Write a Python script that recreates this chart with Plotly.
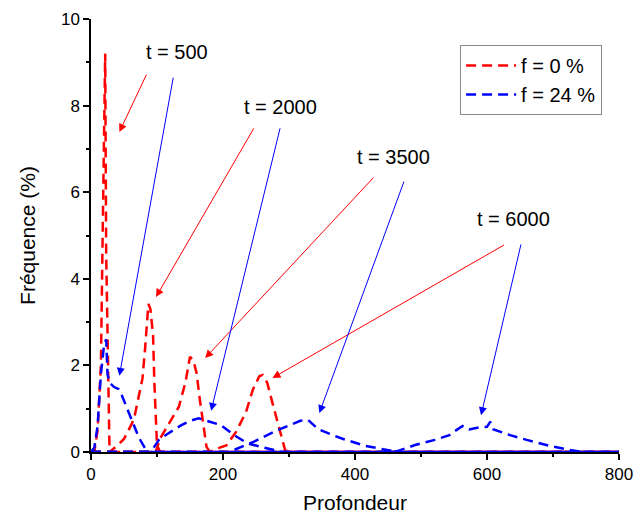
import plotly.graph_objects as go

# ---- data ----
x_f0_t500 = [0, 5, 10, 15, 18, 20, 21.5, 23, 24.5, 26, 28, 30, 800]
y_f0_t500 = [0, 0, 0.5, 2.0, 5.4, 7.7, 9.2, 4.6, 3.0, 1.5, 0.1, 0, 0]

x_f0_t2000 = [0, 28, 40, 50, 65, 78, 82, 87, 90, 94, 96, 100, 105, 800]
y_f0_t2000 = [0, 0, 0.15, 0.3, 0.75, 1.7, 2.4, 3.42, 3.3, 2.7, 1.6, 0.15, 0, 0]

x_f0_t3500 = [0, 98, 105, 118, 133, 143, 150, 155, 160, 165, 170, 175, 180, 800]
y_f0_t3500 = [0, 0, 0.32, 0.67, 1.04, 1.6, 2.2, 2.12, 1.82, 1.2, 0.67, 0.12, 0, 0]

x_f0_t6000 = [0, 180, 195, 205, 220, 235, 245, 255, 260, 267, 275, 285, 294, 300, 800]
y_f0_t6000 = [0, 0, 0.1, 0.15, 0.47, 0.93, 1.43, 1.75, 1.78, 1.6, 1.13, 0.58, 0.05, 0, 0]

x_f24_t500 = [0, 5, 10, 15, 20, 23, 25, 28, 35, 42, 47, 55, 62, 72, 82, 90, 800]
y_f24_t500 = [0, 0.1, 0.6, 1.8, 2.5, 2.6, 1.8, 1.6, 1.5, 1.45, 1.3, 1.0, 0.7, 0.35, 0.08, 0, 0]

x_f24_t2000 = [0, 85, 95, 103, 118, 137, 150, 163, 180, 197, 217, 237, 257, 277, 290, 800]
y_f24_t2000 = [0, 0, 0.1, 0.28, 0.44, 0.62, 0.72, 0.78, 0.7, 0.62, 0.39, 0.2, 0.12, 0.05, 0, 0]

x_f24_t3500 = [0, 210, 217, 247, 282, 300, 317, 329, 344, 366, 382, 416, 446, 465, 800]
y_f24_t3500 = [0, 0, 0.05, 0.24, 0.5, 0.62, 0.72, 0.74, 0.53, 0.39, 0.3, 0.14, 0.05, 0, 0]

x_f24_t6000 = [0, 450, 464, 491, 521, 543, 553, 563, 573, 588, 600, 605, 610, 635, 660, 695, 725, 745, 800]
y_f24_t6000 = [0, 0, 0.02, 0.16, 0.28, 0.39, 0.5, 0.6, 0.52, 0.57, 0.58, 0.7, 0.52, 0.39, 0.28, 0.14, 0.05, 0, 0]

series_names = ["f = 0 %", "f = 24 %"]
time_labels = ["t = 500", "t = 2000", "t = 3500", "t = 6000"]

RED = "#ff0000"
BLUE = "#0000ff"
FONT = "Liberation Sans, Arial, sans-serif"

fig = go.Figure()

red_sets = [(x_f0_t500, y_f0_t500), (x_f0_t2000, y_f0_t2000),
            (x_f0_t3500, y_f0_t3500), (x_f0_t6000, y_f0_t6000)]
blue_sets = [(x_f24_t500, y_f24_t500), (x_f24_t2000, y_f24_t2000),
             (x_f24_t3500, y_f24_t3500), (x_f24_t6000, y_f24_t6000)]

DASH = "10px,6px"
for i, (xs, ys) in enumerate(red_sets):
    fig.add_trace(go.Scatter(x=xs, y=ys, mode="lines", name=series_names[0],
                             legendgroup="f0", showlegend=(i == 0),
                             line=dict(color=RED, width=2.5, dash=DASH)))
for i, (xs, ys) in enumerate(blue_sets):
    fig.add_trace(go.Scatter(x=xs, y=ys, mode="lines", name=series_names[1],
                             legendgroup="f24", showlegend=(i == 0),
                             line=dict(color=BLUE, width=2.5, dash=DASH)))

# annotation positions (labels and arrows)
label_pos = [(130, 9.24), (287, 7.97), (458, 6.81), (640, 5.38)]
red_arrows = [((43, 7.39), (85, 8.75)), ((98.5, 3.58), (248, 7.51)),
              ((173, 2.17), (430, 6.37)), ((275, 1.71), (628, 4.80))]
blue_arrows = [((43, 1.76), (125, 8.68)), ((182, 0.95), (287, 7.51)),
               ((346, 0.90), (475, 6.28)), ((591, 0.85), (652, 4.83))]

for lab, (lx, ly) in zip(time_labels, label_pos):
    fig.add_annotation(x=lx, y=ly, text=lab, showarrow=False,
                       font=dict(size=20, color="black", family=FONT))
for arrows, col in ((red_arrows, RED), (blue_arrows, BLUE)):
    for (tip, start) in arrows:
        fig.add_annotation(x=tip[0], y=tip[1], ax=start[0], ay=start[1],
                           axref="x", ayref="y", xref="x", yref="y",
                           text="", showarrow=True, arrowhead=2,
                           arrowsize=1.6, arrowwidth=1, arrowcolor=col,
                           standoff=0)

# page has an 8px body margin: figure is offset by (8, 8)
fig.update_layout(
    width=635, height=506,
    margin=dict(l=83, r=24, t=11, b=62),
    paper_bgcolor="white", plot_bgcolor="white",
    font=dict(family=FONT, color="black", size=17),
    showlegend=True,
    legend=dict(x=0.699, y=0.94, xanchor="left", yanchor="top",
                bordercolor="#888888", borderwidth=1, bgcolor="white",
                font=dict(size=20, family=FONT), itemwidth=50,
                tracegroupgap=0),
)
fig.update_xaxes(range=[0, 800], dtick=200, tick0=0, showline=True,
                 linecolor="black", linewidth=1.5, ticks="outside",
                 ticklen=6, tickwidth=1.5, tickcolor="black",
                 showgrid=False, zeroline=False, automargin=False,
                 ticklabeloverflow="allow",
                 minor=dict(dtick=100, ticks="outside", ticklen=3,
                            tickcolor="black", tickwidth=1.5),
                 tickfont=dict(size=17),
                 title=dict(text="Profondeur", font=dict(size=21), standoff=24))
fig.update_yaxes(range=[0, 10], dtick=2, tick0=0, showline=True,
                 linecolor="black", linewidth=1.5, ticks="outside",
                 ticklen=6, tickwidth=1.5, tickcolor="black",
                 showgrid=False, zeroline=False, automargin=False,
                 ticklabeloverflow="allow",
                 minor=dict(dtick=1, ticks="outside", ticklen=3,
                            tickcolor="black", tickwidth=1.5),
                 tickfont=dict(size=17),
                 title=dict(text="Fréquence (%)", font=dict(size=21), standoff=20))

fig.write_html("out.html", default_width="635px", default_height="506px")
